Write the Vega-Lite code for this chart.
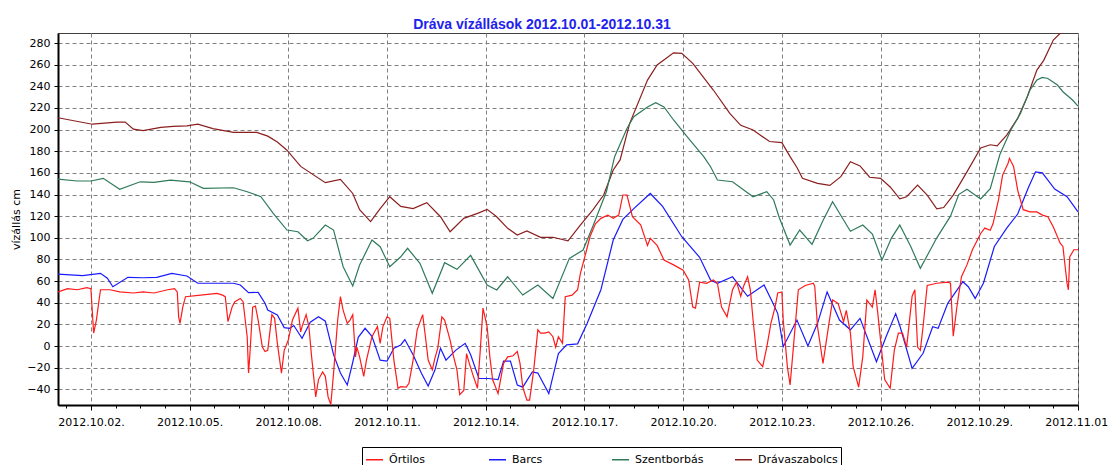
{
"$schema": "https://vega.github.io/schema/vega-lite/v6.json",
"width": 1020, "height": 372,
"autosize": "none",
"padding": {"left": 58, "top": 33, "right": 30, "bottom": 60},
"background": "white",
"config": {"view": {"stroke": "#404040", "strokeWidth": 1}, "font": "DejaVu Sans"},
"title": {"text": "Dráva vízállások 2012.10.01-2012.10.31", "font": "Liberation Sans", "fontSize": 14, "fontWeight": "bold", "color": "#2222EE", "anchor": "middle", "dx": -26, "offset": 1},
"data": {"values": [
{"s":"Drávaszabolcs","t":"2012-10-01T00:00","v":211},
{"s":"Drávaszabolcs","t":"2012-10-02T01:00","v":205},
{"s":"Drávaszabolcs","t":"2012-10-02T19:00","v":207},
{"s":"Drávaszabolcs","t":"2012-10-03T01:00","v":207},
{"s":"Drávaszabolcs","t":"2012-10-03T07:00","v":200.5},
{"s":"Drávaszabolcs","t":"2012-10-03T14:00","v":199},
{"s":"Drávaszabolcs","t":"2012-10-04T03:00","v":202},
{"s":"Drávaszabolcs","t":"2012-10-04T12:00","v":203},
{"s":"Drávaszabolcs","t":"2012-10-04T22:00","v":203.5},
{"s":"Drávaszabolcs","t":"2012-10-05T06:00","v":205},
{"s":"Drávaszabolcs","t":"2012-10-05T17:00","v":201},
{"s":"Drávaszabolcs","t":"2012-10-06T08:00","v":197.5},
{"s":"Drávaszabolcs","t":"2012-10-07T01:00","v":197.5},
{"s":"Drávaszabolcs","t":"2012-10-07T09:00","v":194},
{"s":"Drávaszabolcs","t":"2012-10-07T16:00","v":188.5},
{"s":"Drávaszabolcs","t":"2012-10-07T23:00","v":181},
{"s":"Drávaszabolcs","t":"2012-10-08T09:00","v":166},
{"s":"Drávaszabolcs","t":"2012-10-09T03:00","v":151},
{"s":"Drávaszabolcs","t":"2012-10-09T14:00","v":154},
{"s":"Drávaszabolcs","t":"2012-10-09T23:00","v":141},
{"s":"Drávaszabolcs","t":"2012-10-10T04:00","v":126},
{"s":"Drávaszabolcs","t":"2012-10-10T12:00","v":115},
{"s":"Drávaszabolcs","t":"2012-10-10T19:00","v":127},
{"s":"Drávaszabolcs","t":"2012-10-11T02:00","v":138},
{"s":"Drávaszabolcs","t":"2012-10-11T10:00","v":129},
{"s":"Drávaszabolcs","t":"2012-10-11T19:00","v":127},
{"s":"Drávaszabolcs","t":"2012-10-12T05:00","v":132.5},
{"s":"Drávaszabolcs","t":"2012-10-12T15:00","v":119.5},
{"s":"Drávaszabolcs","t":"2012-10-12T22:00","v":105.6},
{"s":"Drávaszabolcs","t":"2012-10-13T08:00","v":118},
{"s":"Drávaszabolcs","t":"2012-10-13T18:00","v":122.6},
{"s":"Drávaszabolcs","t":"2012-10-14T01:00","v":126.3},
{"s":"Drávaszabolcs","t":"2012-10-14T08:00","v":119.5},
{"s":"Drávaszabolcs","t":"2012-10-14T16:00","v":108.8},
{"s":"Drávaszabolcs","t":"2012-10-14T23:00","v":102.6},
{"s":"Drávaszabolcs","t":"2012-10-15T06:00","v":106.3},
{"s":"Drávaszabolcs","t":"2012-10-15T16:00","v":100.5},
{"s":"Drávaszabolcs","t":"2012-10-16T01:00","v":100.5},
{"s":"Drávaszabolcs","t":"2012-10-16T12:00","v":97.3},
{"s":"Drávaszabolcs","t":"2012-10-16T21:00","v":111.8},
{"s":"Drávaszabolcs","t":"2012-10-17T06:00","v":125.7},
{"s":"Drávaszabolcs","t":"2012-10-17T14:00","v":139.6},
{"s":"Drávaszabolcs","t":"2012-10-17T21:00","v":162.7},
{"s":"Drávaszabolcs","t":"2012-10-18T02:00","v":172},
{"s":"Drávaszabolcs","t":"2012-10-18T09:00","v":205.8},
{"s":"Drávaszabolcs","t":"2012-10-18T22:00","v":245.8},
{"s":"Drávaszabolcs","t":"2012-10-19T05:00","v":259.7},
{"s":"Drávaszabolcs","t":"2012-10-19T17:00","v":271},
{"s":"Drávaszabolcs","t":"2012-10-19T23:00","v":270.5},
{"s":"Drávaszabolcs","t":"2012-10-20T07:00","v":261.3},
{"s":"Drávaszabolcs","t":"2012-10-20T22:00","v":236.6},
{"s":"Drávaszabolcs","t":"2012-10-21T10:00","v":215},
{"s":"Drávaszabolcs","t":"2012-10-21T18:00","v":204},
{"s":"Drávaszabolcs","t":"2012-10-22T03:00","v":199.6},
{"s":"Drávaszabolcs","t":"2012-10-22T15:00","v":189},
{"s":"Drávaszabolcs","t":"2012-10-23T00:00","v":188},
{"s":"Drávaszabolcs","t":"2012-10-23T06:00","v":175},
{"s":"Drávaszabolcs","t":"2012-10-23T11:00","v":165},
{"s":"Drávaszabolcs","t":"2012-10-23T15:00","v":155},
{"s":"Drávaszabolcs","t":"2012-10-24T02:00","v":150.4},
{"s":"Drávaszabolcs","t":"2012-10-24T11:00","v":148.5},
{"s":"Drávaszabolcs","t":"2012-10-24T19:00","v":156.5},
{"s":"Drávaszabolcs","t":"2012-10-25T02:00","v":170.4},
{"s":"Drávaszabolcs","t":"2012-10-25T09:00","v":166.5},
{"s":"Drávaszabolcs","t":"2012-10-25T16:00","v":156},
{"s":"Drávaszabolcs","t":"2012-10-26T00:00","v":155},
{"s":"Drávaszabolcs","t":"2012-10-26T07:00","v":147},
{"s":"Drávaszabolcs","t":"2012-10-26T14:00","v":136},
{"s":"Drávaszabolcs","t":"2012-10-26T19:00","v":138},
{"s":"Drávaszabolcs","t":"2012-10-27T03:00","v":148.8},
{"s":"Drávaszabolcs","t":"2012-10-27T10:00","v":139.5},
{"s":"Drávaszabolcs","t":"2012-10-27T17:00","v":126.7},
{"s":"Drávaszabolcs","t":"2012-10-27T22:00","v":128},
{"s":"Drávaszabolcs","t":"2012-10-28T05:00","v":139.5},
{"s":"Drávaszabolcs","t":"2012-10-28T15:00","v":161},
{"s":"Drávaszabolcs","t":"2012-10-29T01:00","v":183},
{"s":"Drávaszabolcs","t":"2012-10-29T08:00","v":186},
{"s":"Drávaszabolcs","t":"2012-10-29T13:00","v":185},
{"s":"Drávaszabolcs","t":"2012-10-29T20:00","v":195},
{"s":"Drávaszabolcs","t":"2012-10-30T04:00","v":210.4},
{"s":"Drávaszabolcs","t":"2012-10-30T11:00","v":230.4},
{"s":"Drávaszabolcs","t":"2012-10-30T18:00","v":255},
{"s":"Drávaszabolcs","t":"2012-10-30T23:00","v":264},
{"s":"Drávaszabolcs","t":"2012-10-31T06:00","v":282.8},
{"s":"Drávaszabolcs","t":"2012-10-31T11:00","v":289},
{"s":"Drávaszabolcs","t":"2012-10-31T17:00","v":292},
{"s":"Drávaszabolcs","t":"2012-11-01T00:00","v":294},
{"s":"Szentborbás","t":"2012-10-01T00:00","v":154.3},
{"s":"Szentborbás","t":"2012-10-01T14:00","v":152.5},
{"s":"Szentborbás","t":"2012-10-02T00:00","v":152.5},
{"s":"Szentborbás","t":"2012-10-02T09:00","v":155},
{"s":"Szentborbás","t":"2012-10-02T21:00","v":144.8},
{"s":"Szentborbás","t":"2012-10-03T12:00","v":151.8},
{"s":"Szentborbás","t":"2012-10-03T22:00","v":151.3},
{"s":"Szentborbás","t":"2012-10-04T10:00","v":153.4},
{"s":"Szentborbás","t":"2012-10-05T00:00","v":151.8},
{"s":"Szentborbás","t":"2012-10-05T10:00","v":145.7},
{"s":"Szentborbás","t":"2012-10-06T08:00","v":146.3},
{"s":"Szentborbás","t":"2012-10-06T18:00","v":142.6},
{"s":"Szentborbás","t":"2012-10-07T04:00","v":138},
{"s":"Szentborbás","t":"2012-10-07T13:00","v":122.6},
{"s":"Szentborbás","t":"2012-10-07T23:00","v":107.2},
{"s":"Szentborbás","t":"2012-10-08T07:00","v":105.6},
{"s":"Szentborbás","t":"2012-10-08T14:00","v":97.3},
{"s":"Szentborbás","t":"2012-10-08T18:00","v":99.5},
{"s":"Szentborbás","t":"2012-10-09T03:00","v":111.8},
{"s":"Szentborbás","t":"2012-10-09T09:00","v":107.2},
{"s":"Szentborbás","t":"2012-10-09T16:00","v":73.3},
{"s":"Szentborbás","t":"2012-10-09T23:00","v":55.5},
{"s":"Szentborbás","t":"2012-10-10T04:00","v":74.9},
{"s":"Szentborbás","t":"2012-10-10T13:00","v":98},
{"s":"Szentborbás","t":"2012-10-10T19:00","v":91.8},
{"s":"Szentborbás","t":"2012-10-11T02:00","v":73.3},
{"s":"Szentborbás","t":"2012-10-11T10:00","v":82.5},
{"s":"Szentborbás","t":"2012-10-11T15:00","v":90.3},
{"s":"Szentborbás","t":"2012-10-12T00:00","v":76.4},
{"s":"Szentborbás","t":"2012-10-12T09:00","v":48.7},
{"s":"Szentborbás","t":"2012-10-12T18:00","v":77},
{"s":"Szentborbás","t":"2012-10-13T03:00","v":70.9},
{"s":"Szentborbás","t":"2012-10-13T13:00","v":83.8},
{"s":"Szentborbás","t":"2012-10-14T01:00","v":56.4},
{"s":"Szentborbás","t":"2012-10-14T08:00","v":51.8},
{"s":"Szentborbás","t":"2012-10-14T16:00","v":64},
{"s":"Szentborbás","t":"2012-10-15T03:00","v":47.1},
{"s":"Szentborbás","t":"2012-10-15T14:00","v":56.4},
{"s":"Szentborbás","t":"2012-10-16T01:00","v":44},
{"s":"Szentborbás","t":"2012-10-16T13:00","v":81},
{"s":"Szentborbás","t":"2012-10-16T23:00","v":88.7},
{"s":"Szentborbás","t":"2012-10-17T06:00","v":110.3},
{"s":"Szentborbás","t":"2012-10-17T16:00","v":142.6},
{"s":"Szentborbás","t":"2012-10-17T22:00","v":175},
{"s":"Szentborbás","t":"2012-10-18T07:00","v":201},
{"s":"Szentborbás","t":"2012-10-18T12:00","v":212},
{"s":"Szentborbás","t":"2012-10-18T22:00","v":221},
{"s":"Szentborbás","t":"2012-10-19T04:00","v":224.9},
{"s":"Szentborbás","t":"2012-10-19T10:00","v":221},
{"s":"Szentborbás","t":"2012-10-19T17:00","v":208.9},
{"s":"Szentborbás","t":"2012-10-20T03:00","v":193.4},
{"s":"Szentborbás","t":"2012-10-20T15:00","v":175},
{"s":"Szentborbás","t":"2012-10-20T20:00","v":165.7},
{"s":"Szentborbás","t":"2012-10-21T01:00","v":153.4},
{"s":"Szentborbás","t":"2012-10-21T12:00","v":151.8},
{"s":"Szentborbás","t":"2012-10-22T03:00","v":138},
{"s":"Szentborbás","t":"2012-10-22T13:00","v":142.6},
{"s":"Szentborbás","t":"2012-10-22T18:00","v":135},
{"s":"Szentborbás","t":"2012-10-22T22:00","v":119},
{"s":"Szentborbás","t":"2012-10-23T06:00","v":93.3},
{"s":"Szentborbás","t":"2012-10-23T13:00","v":107.2},
{"s":"Szentborbás","t":"2012-10-23T22:00","v":94},
{"s":"Szentborbás","t":"2012-10-24T06:00","v":116},
{"s":"Szentborbás","t":"2012-10-24T13:00","v":133.4},
{"s":"Szentborbás","t":"2012-10-24T21:00","v":116.5},
{"s":"Szentborbás","t":"2012-10-25T02:00","v":106},
{"s":"Szentborbás","t":"2012-10-25T11:00","v":111.8},
{"s":"Szentborbás","t":"2012-10-25T18:00","v":103.5},
{"s":"Szentborbás","t":"2012-10-26T01:00","v":79.5},
{"s":"Szentborbás","t":"2012-10-26T08:00","v":100},
{"s":"Szentborbás","t":"2012-10-26T14:00","v":111.8},
{"s":"Szentborbás","t":"2012-10-26T22:00","v":92},
{"s":"Szentborbás","t":"2012-10-27T05:00","v":71.8},
{"s":"Szentborbás","t":"2012-10-27T17:00","v":100},
{"s":"Szentborbás","t":"2012-10-28T03:00","v":120},
{"s":"Szentborbás","t":"2012-10-28T09:00","v":140},
{"s":"Szentborbás","t":"2012-10-28T15:00","v":145},
{"s":"Szentborbás","t":"2012-10-29T01:00","v":136},
{"s":"Szentborbás","t":"2012-10-29T08:00","v":145.5},
{"s":"Szentborbás","t":"2012-10-29T15:00","v":177},
{"s":"Szentborbás","t":"2012-10-29T23:00","v":199.6},
{"s":"Szentborbás","t":"2012-10-30T06:00","v":215},
{"s":"Szentborbás","t":"2012-10-30T13:00","v":236.6},
{"s":"Szentborbás","t":"2012-10-30T18:00","v":245.8},
{"s":"Szentborbás","t":"2012-10-30T22:00","v":248.3},
{"s":"Szentborbás","t":"2012-10-31T02:00","v":247.3},
{"s":"Szentborbás","t":"2012-10-31T09:00","v":241.2},
{"s":"Szentborbás","t":"2012-10-31T13:00","v":235},
{"s":"Szentborbás","t":"2012-10-31T20:00","v":227.4},
{"s":"Szentborbás","t":"2012-11-01T00:00","v":221.8},
{"s":"Barcs","t":"2012-10-01T00:00","v":66.5},
{"s":"Barcs","t":"2012-10-01T18:00","v":65},
{"s":"Barcs","t":"2012-10-02T07:00","v":67.2},
{"s":"Barcs","t":"2012-10-02T12:00","v":62.6},
{"s":"Barcs","t":"2012-10-02T16:00","v":54.8},
{"s":"Barcs","t":"2012-10-03T03:00","v":63.5},
{"s":"Barcs","t":"2012-10-03T14:00","v":63.1},
{"s":"Barcs","t":"2012-10-04T00:00","v":63.5},
{"s":"Barcs","t":"2012-10-04T11:00","v":67.2},
{"s":"Barcs","t":"2012-10-04T22:00","v":64.7},
{"s":"Barcs","t":"2012-10-05T06:00","v":58},
{"s":"Barcs","t":"2012-10-06T08:00","v":58},
{"s":"Barcs","t":"2012-10-06T13:00","v":56.4},
{"s":"Barcs","t":"2012-10-06T19:00","v":49.3},
{"s":"Barcs","t":"2012-10-07T02:00","v":49.6},
{"s":"Barcs","t":"2012-10-07T07:00","v":39.5},
{"s":"Barcs","t":"2012-10-07T09:00","v":33.3},
{"s":"Barcs","t":"2012-10-07T16:00","v":28.7},
{"s":"Barcs","t":"2012-10-07T21:00","v":17},
{"s":"Barcs","t":"2012-10-08T01:00","v":16.4},
{"s":"Barcs","t":"2012-10-08T04:00","v":19},
{"s":"Barcs","t":"2012-10-08T10:00","v":7.1},
{"s":"Barcs","t":"2012-10-08T16:00","v":22},
{"s":"Barcs","t":"2012-10-08T22:00","v":27},
{"s":"Barcs","t":"2012-10-09T03:00","v":23},
{"s":"Barcs","t":"2012-10-09T09:00","v":-8},
{"s":"Barcs","t":"2012-10-09T14:00","v":-25},
{"s":"Barcs","t":"2012-10-09T19:00","v":-36},
{"s":"Barcs","t":"2012-10-09T23:00","v":-15},
{"s":"Barcs","t":"2012-10-10T03:00","v":8},
{"s":"Barcs","t":"2012-10-10T08:00","v":16.4},
{"s":"Barcs","t":"2012-10-10T13:00","v":9},
{"s":"Barcs","t":"2012-10-10T19:00","v":-13},
{"s":"Barcs","t":"2012-10-11T00:00","v":-14},
{"s":"Barcs","t":"2012-10-11T05:00","v":-2},
{"s":"Barcs","t":"2012-10-11T10:00","v":1},
{"s":"Barcs","t":"2012-10-11T13:00","v":6},
{"s":"Barcs","t":"2012-10-11T19:00","v":-8},
{"s":"Barcs","t":"2012-10-12T01:00","v":-25},
{"s":"Barcs","t":"2012-10-12T06:00","v":-37},
{"s":"Barcs","t":"2012-10-12T11:00","v":-22},
{"s":"Barcs","t":"2012-10-12T15:00","v":-2},
{"s":"Barcs","t":"2012-10-12T19:00","v":-13},
{"s":"Barcs","t":"2012-10-13T02:00","v":-4},
{"s":"Barcs","t":"2012-10-13T09:00","v":2.5},
{"s":"Barcs","t":"2012-10-13T13:00","v":-8},
{"s":"Barcs","t":"2012-10-13T19:00","v":-30},
{"s":"Barcs","t":"2012-10-14T02:00","v":-30},
{"s":"Barcs","t":"2012-10-14T09:00","v":-31},
{"s":"Barcs","t":"2012-10-14T13:00","v":-14},
{"s":"Barcs","t":"2012-10-14T18:00","v":-14},
{"s":"Barcs","t":"2012-10-14T23:00","v":-36},
{"s":"Barcs","t":"2012-10-15T03:00","v":-38},
{"s":"Barcs","t":"2012-10-15T10:00","v":-24},
{"s":"Barcs","t":"2012-10-15T14:00","v":-25},
{"s":"Barcs","t":"2012-10-15T22:00","v":-44},
{"s":"Barcs","t":"2012-10-16T05:00","v":-7},
{"s":"Barcs","t":"2012-10-16T11:00","v":1},
{"s":"Barcs","t":"2012-10-16T19:00","v":2},
{"s":"Barcs","t":"2012-10-17T02:00","v":21},
{"s":"Barcs","t":"2012-10-17T12:00","v":52},
{"s":"Barcs","t":"2012-10-17T21:00","v":98},
{"s":"Barcs","t":"2012-10-18T04:00","v":117},
{"s":"Barcs","t":"2012-10-18T12:00","v":127},
{"s":"Barcs","t":"2012-10-19T00:00","v":141},
{"s":"Barcs","t":"2012-10-19T09:00","v":129},
{"s":"Barcs","t":"2012-10-19T23:00","v":101},
{"s":"Barcs","t":"2012-10-20T12:00","v":82},
{"s":"Barcs","t":"2012-10-20T20:00","v":61},
{"s":"Barcs","t":"2012-10-21T01:00","v":58},
{"s":"Barcs","t":"2012-10-21T12:00","v":64},
{"s":"Barcs","t":"2012-10-21T23:00","v":46},
{"s":"Barcs","t":"2012-10-22T11:00","v":56.4},
{"s":"Barcs","t":"2012-10-22T17:00","v":41},
{"s":"Barcs","t":"2012-10-22T21:00","v":30},
{"s":"Barcs","t":"2012-10-23T01:00","v":-0.6},
{"s":"Barcs","t":"2012-10-23T11:00","v":24},
{"s":"Barcs","t":"2012-10-23T19:00","v":0},
{"s":"Barcs","t":"2012-10-24T02:00","v":21},
{"s":"Barcs","t":"2012-10-24T09:00","v":50},
{"s":"Barcs","t":"2012-10-24T18:00","v":24},
{"s":"Barcs","t":"2012-10-25T02:00","v":15},
{"s":"Barcs","t":"2012-10-25T09:00","v":25.6},
{"s":"Barcs","t":"2012-10-25T21:00","v":-14.5},
{"s":"Barcs","t":"2012-10-26T04:00","v":8.6},
{"s":"Barcs","t":"2012-10-26T11:00","v":30},
{"s":"Barcs","t":"2012-10-26T14:00","v":19},
{"s":"Barcs","t":"2012-10-26T23:00","v":-20.6},
{"s":"Barcs","t":"2012-10-27T07:00","v":-6.7},
{"s":"Barcs","t":"2012-10-27T14:00","v":17.8},
{"s":"Barcs","t":"2012-10-27T18:00","v":16.4},
{"s":"Barcs","t":"2012-10-28T01:00","v":39.5},
{"s":"Barcs","t":"2012-10-28T12:00","v":59.4},
{"s":"Barcs","t":"2012-10-28T16:00","v":54.8},
{"s":"Barcs","t":"2012-10-28T21:00","v":44},
{"s":"Barcs","t":"2012-10-29T03:00","v":58},
{"s":"Barcs","t":"2012-10-29T11:00","v":92},
{"s":"Barcs","t":"2012-10-29T20:00","v":109},
{"s":"Barcs","t":"2012-10-30T04:00","v":122},
{"s":"Barcs","t":"2012-10-30T12:00","v":147},
{"s":"Barcs","t":"2012-10-30T17:00","v":161},
{"s":"Barcs","t":"2012-10-30T22:00","v":160},
{"s":"Barcs","t":"2012-10-31T07:00","v":145},
{"s":"Barcs","t":"2012-10-31T16:00","v":138},
{"s":"Barcs","t":"2012-11-01T00:00","v":124},
{"s":"Őrtilos","t":"2012-10-01T00:00","v":50},
{"s":"Őrtilos","t":"2012-10-01T07:00","v":53},
{"s":"Őrtilos","t":"2012-10-01T14:00","v":52},
{"s":"Őrtilos","t":"2012-10-01T21:00","v":54},
{"s":"Őrtilos","t":"2012-10-02T00:00","v":53},
{"s":"Őrtilos","t":"2012-10-02T02:00","v":12},
{"s":"Őrtilos","t":"2012-10-02T04:00","v":24},
{"s":"Őrtilos","t":"2012-10-02T06:00","v":43},
{"s":"Őrtilos","t":"2012-10-02T07:00","v":52},
{"s":"Őrtilos","t":"2012-10-02T14:00","v":52},
{"s":"Őrtilos","t":"2012-10-02T21:00","v":50},
{"s":"Őrtilos","t":"2012-10-03T07:00","v":49},
{"s":"Őrtilos","t":"2012-10-03T14:00","v":50},
{"s":"Őrtilos","t":"2012-10-03T22:00","v":49},
{"s":"Őrtilos","t":"2012-10-04T08:00","v":52},
{"s":"Őrtilos","t":"2012-10-04T13:00","v":53},
{"s":"Őrtilos","t":"2012-10-04T15:00","v":50},
{"s":"Őrtilos","t":"2012-10-04T16:00","v":27},
{"s":"Őrtilos","t":"2012-10-04T17:00","v":21},
{"s":"Őrtilos","t":"2012-10-04T19:00","v":36},
{"s":"Őrtilos","t":"2012-10-04T21:00","v":45.6},
{"s":"Őrtilos","t":"2012-10-05T08:00","v":47},
{"s":"Őrtilos","t":"2012-10-05T20:00","v":48.7},
{"s":"Őrtilos","t":"2012-10-06T00:00","v":47},
{"s":"Őrtilos","t":"2012-10-06T02:00","v":45.6},
{"s":"Őrtilos","t":"2012-10-06T04:00","v":22.5},
{"s":"Őrtilos","t":"2012-10-06T07:00","v":36},
{"s":"Őrtilos","t":"2012-10-06T09:00","v":41},
{"s":"Őrtilos","t":"2012-10-06T13:00","v":44},
{"s":"Őrtilos","t":"2012-10-06T15:00","v":41},
{"s":"Őrtilos","t":"2012-10-06T18:00","v":8.6},
{"s":"Őrtilos","t":"2012-10-06T19:00","v":-25},
{"s":"Őrtilos","t":"2012-10-06T20:00","v":-7},
{"s":"Őrtilos","t":"2012-10-06T22:00","v":36},
{"s":"Őrtilos","t":"2012-10-07T00:00","v":37},
{"s":"Őrtilos","t":"2012-10-07T02:00","v":24},
{"s":"Őrtilos","t":"2012-10-07T05:00","v":-0.6},
{"s":"Őrtilos","t":"2012-10-07T07:00","v":-5},
{"s":"Őrtilos","t":"2012-10-07T09:00","v":-4},
{"s":"Őrtilos","t":"2012-10-07T12:00","v":29},
{"s":"Őrtilos","t":"2012-10-07T14:00","v":25.6},
{"s":"Őrtilos","t":"2012-10-07T16:00","v":2.5},
{"s":"Őrtilos","t":"2012-10-07T19:00","v":-25},
{"s":"Őrtilos","t":"2012-10-07T21:00","v":-4},
{"s":"Őrtilos","t":"2012-10-08T00:00","v":5.5},
{"s":"Őrtilos","t":"2012-10-08T03:00","v":24},
{"s":"Őrtilos","t":"2012-10-08T07:00","v":35},
{"s":"Őrtilos","t":"2012-10-08T09:00","v":13},
{"s":"Őrtilos","t":"2012-10-08T10:00","v":18},
{"s":"Őrtilos","t":"2012-10-08T13:00","v":29},
{"s":"Őrtilos","t":"2012-10-08T15:00","v":18},
{"s":"Őrtilos","t":"2012-10-08T17:00","v":-10},
{"s":"Őrtilos","t":"2012-10-08T20:00","v":-47},
{"s":"Őrtilos","t":"2012-10-08T22:00","v":-31},
{"s":"Őrtilos","t":"2012-10-09T01:00","v":-24},
{"s":"Őrtilos","t":"2012-10-09T03:00","v":-28},
{"s":"Őrtilos","t":"2012-10-09T05:00","v":-47},
{"s":"Őrtilos","t":"2012-10-09T07:00","v":-54},
{"s":"Őrtilos","t":"2012-10-09T09:00","v":-25},
{"s":"Őrtilos","t":"2012-10-09T12:00","v":24},
{"s":"Őrtilos","t":"2012-10-09T14:00","v":45.6},
{"s":"Őrtilos","t":"2012-10-09T16:00","v":33},
{"s":"Őrtilos","t":"2012-10-09T19:00","v":21},
{"s":"Őrtilos","t":"2012-10-09T21:00","v":24},
{"s":"Őrtilos","t":"2012-10-09T23:00","v":29},
{"s":"Őrtilos","t":"2012-10-10T01:00","v":-10},
{"s":"Őrtilos","t":"2012-10-10T02:00","v":-1},
{"s":"Őrtilos","t":"2012-10-10T04:00","v":-10},
{"s":"Őrtilos","t":"2012-10-10T07:00","v":-28},
{"s":"Őrtilos","t":"2012-10-10T09:00","v":-13},
{"s":"Őrtilos","t":"2012-10-10T13:00","v":8.6},
{"s":"Őrtilos","t":"2012-10-10T17:00","v":18},
{"s":"Őrtilos","t":"2012-10-10T19:00","v":2.5},
{"s":"Őrtilos","t":"2012-10-10T21:00","v":18},
{"s":"Őrtilos","t":"2012-10-11T00:00","v":27},
{"s":"Őrtilos","t":"2012-10-11T02:00","v":25.6},
{"s":"Őrtilos","t":"2012-10-11T05:00","v":-13},
{"s":"Őrtilos","t":"2012-10-11T08:00","v":-39},
{"s":"Őrtilos","t":"2012-10-11T10:00","v":-37.6},
{"s":"Őrtilos","t":"2012-10-11T14:00","v":-38},
{"s":"Őrtilos","t":"2012-10-11T16:00","v":-34.5},
{"s":"Őrtilos","t":"2012-10-11T19:00","v":-13},
{"s":"Őrtilos","t":"2012-10-11T22:00","v":15},
{"s":"Őrtilos","t":"2012-10-12T02:00","v":29},
{"s":"Őrtilos","t":"2012-10-12T04:00","v":8.6},
{"s":"Őrtilos","t":"2012-10-12T06:00","v":-13},
{"s":"Őrtilos","t":"2012-10-12T09:00","v":-22},
{"s":"Őrtilos","t":"2012-10-12T11:00","v":-11},
{"s":"Őrtilos","t":"2012-10-12T13:00","v":-2},
{"s":"Őrtilos","t":"2012-10-12T16:00","v":27},
{"s":"Őrtilos","t":"2012-10-12T18:00","v":24},
{"s":"Őrtilos","t":"2012-10-12T22:00","v":5.5},
{"s":"Őrtilos","t":"2012-10-13T00:00","v":-7},
{"s":"Őrtilos","t":"2012-10-13T03:00","v":-22},
{"s":"Őrtilos","t":"2012-10-13T05:00","v":-45},
{"s":"Őrtilos","t":"2012-10-13T08:00","v":-41},
{"s":"Őrtilos","t":"2012-10-13T10:00","v":-7},
{"s":"Őrtilos","t":"2012-10-13T12:00","v":-16},
{"s":"Őrtilos","t":"2012-10-13T15:00","v":-28},
{"s":"Őrtilos","t":"2012-10-13T18:00","v":-39},
{"s":"Őrtilos","t":"2012-10-13T20:00","v":-4},
{"s":"Őrtilos","t":"2012-10-13T22:00","v":35},
{"s":"Őrtilos","t":"2012-10-14T01:00","v":18},
{"s":"Őrtilos","t":"2012-10-14T03:00","v":-10},
{"s":"Őrtilos","t":"2012-10-14T05:00","v":-31},
{"s":"Őrtilos","t":"2012-10-14T09:00","v":-44},
{"s":"Őrtilos","t":"2012-10-14T13:00","v":-16},
{"s":"Őrtilos","t":"2012-10-14T16:00","v":-10},
{"s":"Őrtilos","t":"2012-10-14T20:00","v":-9},
{"s":"Őrtilos","t":"2012-10-14T23:00","v":-5},
{"s":"Őrtilos","t":"2012-10-15T01:00","v":-16},
{"s":"Őrtilos","t":"2012-10-15T03:00","v":-38},
{"s":"Őrtilos","t":"2012-10-15T06:00","v":-50},
{"s":"Őrtilos","t":"2012-10-15T08:00","v":-50},
{"s":"Őrtilos","t":"2012-10-15T11:00","v":-22},
{"s":"Őrtilos","t":"2012-10-15T14:00","v":15},
{"s":"Őrtilos","t":"2012-10-15T16:00","v":12},
{"s":"Őrtilos","t":"2012-10-15T19:00","v":12},
{"s":"Őrtilos","t":"2012-10-15T22:00","v":13},
{"s":"Őrtilos","t":"2012-10-16T01:00","v":8.6},
{"s":"Őrtilos","t":"2012-10-16T03:00","v":-1},
{"s":"Őrtilos","t":"2012-10-16T05:00","v":8.6},
{"s":"Őrtilos","t":"2012-10-16T08:00","v":2.5},
{"s":"Őrtilos","t":"2012-10-16T10:00","v":45.6},
{"s":"Őrtilos","t":"2012-10-16T15:00","v":47},
{"s":"Őrtilos","t":"2012-10-16T19:00","v":52},
{"s":"Őrtilos","t":"2012-10-16T21:00","v":67},
{"s":"Őrtilos","t":"2012-10-17T01:00","v":86},
{"s":"Őrtilos","t":"2012-10-17T04:00","v":101},
{"s":"Őrtilos","t":"2012-10-17T08:00","v":113},
{"s":"Őrtilos","t":"2012-10-17T12:00","v":118},
{"s":"Őrtilos","t":"2012-10-17T17:00","v":121},
{"s":"Őrtilos","t":"2012-10-17T21:00","v":118},
{"s":"Őrtilos","t":"2012-10-18T01:00","v":121},
{"s":"Őrtilos","t":"2012-10-18T04:00","v":139.6},
{"s":"Őrtilos","t":"2012-10-18T07:00","v":139.6},
{"s":"Őrtilos","t":"2012-10-18T11:00","v":119.5},
{"s":"Őrtilos","t":"2012-10-18T17:00","v":112},
{"s":"Őrtilos","t":"2012-10-18T22:00","v":93},
{"s":"Őrtilos","t":"2012-10-19T00:00","v":99.5},
{"s":"Őrtilos","t":"2012-10-19T05:00","v":93},
{"s":"Őrtilos","t":"2012-10-19T10:00","v":79.5},
{"s":"Őrtilos","t":"2012-10-19T17:00","v":75},
{"s":"Őrtilos","t":"2012-10-20T00:00","v":70},
{"s":"Őrtilos","t":"2012-10-20T04:00","v":61},
{"s":"Őrtilos","t":"2012-10-20T07:00","v":36},
{"s":"Őrtilos","t":"2012-10-20T09:00","v":35},
{"s":"Őrtilos","t":"2012-10-20T12:00","v":59},
{"s":"Őrtilos","t":"2012-10-20T17:00","v":58},
{"s":"Őrtilos","t":"2012-10-20T22:00","v":61},
{"s":"Őrtilos","t":"2012-10-21T01:00","v":58},
{"s":"Őrtilos","t":"2012-10-21T04:00","v":36},
{"s":"Őrtilos","t":"2012-10-21T08:00","v":27},
{"s":"Őrtilos","t":"2012-10-21T12:00","v":52},
{"s":"Őrtilos","t":"2012-10-21T15:00","v":59},
{"s":"Őrtilos","t":"2012-10-21T18:00","v":46},
{"s":"Őrtilos","t":"2012-10-21T20:00","v":55},
{"s":"Őrtilos","t":"2012-10-21T23:00","v":64},
{"s":"Őrtilos","t":"2012-10-22T01:00","v":52},
{"s":"Őrtilos","t":"2012-10-22T03:00","v":24},
{"s":"Őrtilos","t":"2012-10-22T06:00","v":-13},
{"s":"Őrtilos","t":"2012-10-22T10:00","v":-19},
{"s":"Őrtilos","t":"2012-10-22T13:00","v":-1},
{"s":"Őrtilos","t":"2012-10-22T16:00","v":21},
{"s":"Őrtilos","t":"2012-10-22T19:00","v":36},
{"s":"Őrtilos","t":"2012-10-22T21:00","v":49},
{"s":"Őrtilos","t":"2012-10-23T00:00","v":50},
{"s":"Őrtilos","t":"2012-10-23T01:00","v":24},
{"s":"Őrtilos","t":"2012-10-23T04:00","v":-19},
{"s":"Őrtilos","t":"2012-10-23T06:00","v":-36},
{"s":"Őrtilos","t":"2012-10-23T08:00","v":-7},
{"s":"Őrtilos","t":"2012-10-23T12:00","v":52},
{"s":"Őrtilos","t":"2012-10-23T17:00","v":56},
{"s":"Őrtilos","t":"2012-10-23T23:00","v":58},
{"s":"Őrtilos","t":"2012-10-24T00:00","v":55},
{"s":"Őrtilos","t":"2012-10-24T02:00","v":18},
{"s":"Őrtilos","t":"2012-10-24T06:00","v":-16},
{"s":"Őrtilos","t":"2012-10-24T10:00","v":18},
{"s":"Őrtilos","t":"2012-10-24T13:00","v":42.5},
{"s":"Őrtilos","t":"2012-10-24T17:00","v":39.5},
{"s":"Őrtilos","t":"2012-10-24T21:00","v":22.5},
{"s":"Őrtilos","t":"2012-10-24T23:00","v":33},
{"s":"Őrtilos","t":"2012-10-25T02:00","v":12},
{"s":"Őrtilos","t":"2012-10-25T04:00","v":-19},
{"s":"Őrtilos","t":"2012-10-25T08:00","v":-38},
{"s":"Őrtilos","t":"2012-10-25T11:00","v":-10},
{"s":"Őrtilos","t":"2012-10-25T14:00","v":42.5},
{"s":"Őrtilos","t":"2012-10-25T18:00","v":36},
{"s":"Őrtilos","t":"2012-10-25T20:00","v":52},
{"s":"Őrtilos","t":"2012-10-25T22:00","v":30},
{"s":"Őrtilos","t":"2012-10-26T01:00","v":-7},
{"s":"Őrtilos","t":"2012-10-26T03:00","v":-31},
{"s":"Őrtilos","t":"2012-10-26T07:00","v":-39},
{"s":"Őrtilos","t":"2012-10-26T10:00","v":-4},
{"s":"Őrtilos","t":"2012-10-26T13:00","v":12},
{"s":"Őrtilos","t":"2012-10-26T16:00","v":12},
{"s":"Őrtilos","t":"2012-10-26T19:00","v":-1},
{"s":"Őrtilos","t":"2012-10-26T23:00","v":46},
{"s":"Őrtilos","t":"2012-10-27T01:00","v":52},
{"s":"Őrtilos","t":"2012-10-27T03:00","v":-1},
{"s":"Őrtilos","t":"2012-10-27T05:00","v":-4},
{"s":"Őrtilos","t":"2012-10-27T07:00","v":18},
{"s":"Őrtilos","t":"2012-10-27T10:00","v":56},
{"s":"Őrtilos","t":"2012-10-27T17:00","v":58},
{"s":"Őrtilos","t":"2012-10-28T01:00","v":59},
{"s":"Őrtilos","t":"2012-10-28T03:00","v":58},
{"s":"Őrtilos","t":"2012-10-28T05:00","v":9},
{"s":"Őrtilos","t":"2012-10-28T08:00","v":39.5},
{"s":"Őrtilos","t":"2012-10-28T11:00","v":64},
{"s":"Őrtilos","t":"2012-10-28T15:00","v":75},
{"s":"Őrtilos","t":"2012-10-28T19:00","v":89},
{"s":"Őrtilos","t":"2012-10-29T01:00","v":104},
{"s":"Őrtilos","t":"2012-10-29T04:00","v":109},
{"s":"Őrtilos","t":"2012-10-29T08:00","v":107},
{"s":"Őrtilos","t":"2012-10-29T10:00","v":113},
{"s":"Őrtilos","t":"2012-10-29T14:00","v":135},
{"s":"Őrtilos","t":"2012-10-29T17:00","v":158},
{"s":"Őrtilos","t":"2012-10-29T21:00","v":169},
{"s":"Őrtilos","t":"2012-10-29T22:00","v":173.5},
{"s":"Őrtilos","t":"2012-10-30T01:00","v":166},
{"s":"Őrtilos","t":"2012-10-30T04:00","v":144},
{"s":"Őrtilos","t":"2012-10-30T08:00","v":126},
{"s":"Őrtilos","t":"2012-10-30T13:00","v":124},
{"s":"Őrtilos","t":"2012-10-30T18:00","v":124},
{"s":"Őrtilos","t":"2012-10-30T22:00","v":121},
{"s":"Őrtilos","t":"2012-10-31T02:00","v":119.5},
{"s":"Őrtilos","t":"2012-10-31T06:00","v":110},
{"s":"Őrtilos","t":"2012-10-31T11:00","v":95},
{"s":"Őrtilos","t":"2012-10-31T13:00","v":92},
{"s":"Őrtilos","t":"2012-10-31T16:00","v":58},
{"s":"Őrtilos","t":"2012-10-31T17:00","v":52},
{"s":"Őrtilos","t":"2012-10-31T18:00","v":82.5},
{"s":"Őrtilos","t":"2012-10-31T21:00","v":89},
{"s":"Őrtilos","t":"2012-11-01T00:00","v":89}
]},
"resolve": {"axis": {"x": "independent"}},
"layer": [
{
"mark": {"type": "line", "strokeWidth": 1.2, "clip": true},
"encoding": {
"x": {"field": "t", "type": "temporal",
 "scale": {"domain": [{"year": 2012, "month": 10, "date": 1}, {"year": 2012, "month": 11, "date": 1}]},
 "axis": {"title": null, "format": "%Y.%m.%d.", "labelFlush": false, "labelOverlap": false,
  "values": [{"year": 2012, "month": 10, "date": 2}, {"year": 2012, "month": 10, "date": 5}, {"year": 2012, "month": 10, "date": 8}, {"year": 2012, "month": 10, "date": 11}, {"year": 2012, "month": 10, "date": 14}, {"year": 2012, "month": 10, "date": 17}, {"year": 2012, "month": 10, "date": 20}, {"year": 2012, "month": 10, "date": 23}, {"year": 2012, "month": 10, "date": 26}, {"year": 2012, "month": 10, "date": 29}, {"year": 2012, "month": 11, "date": 1}],
  "labelFont": "DejaVu Sans", "labelFontSize": 11, "labelColor": "#000000", "labelPadding": 6,
  "tickSize": 5, "tickColor": "#000000", "domainColor": "#000000", "domainWidth": 2,
  "grid": true, "gridColor": "#808080", "gridDash": [4, 3], "gridWidth": 1}},
"y": {"field": "v", "type": "quantitative",
 "scale": {"domain": [-54.5, 289.3], "nice": false, "zero": false},
 "axis": {"title": "vízállás cm", "titleFont": "DejaVu Sans", "titleFontSize": 11, "titleFontWeight": "normal", "titleColor": "#000000", "titlePadding": 5,
  "values": [-40, -20, 0, 20, 40, 60, 80, 100, 120, 140, 160, 180, 200, 220, 240, 260, 280], "labelOverlap": false,
  "labelFont": "DejaVu Sans", "labelFontSize": 11, "labelColor": "#000000", "labelPadding": 4,
  "tickSize": 4, "tickColor": "#000000", "domainColor": "#000000", "domainWidth": 2,
  "grid": true, "gridColor": "#808080", "gridDash": [4, 3], "gridWidth": 1}},
"color": {"field": "s", "type": "nominal",
 "scale": {"domain": ["Őrtilos", "Barcs", "Szentborbás", "Drávaszabolcs"], "range": ["#FF1A1A", "#1A1AFF", "#2F7A5A", "#8B1E1E"]},
 "legend": {"title": null, "orient": "none", "legendX": 304, "legendY": 414, "direction": "horizontal", "columns": 4, "gridAlign": "all",
  "symbolType": "stroke", "symbolSize": 289, "symbolStrokeWidth": 1.5, "labelFont": "DejaVu Sans", "labelFontSize": 11, "labelColor": "#000000", "labelOffset": 5, "labelLimit": 200, "columnPadding": 17,
  "strokeColor": "#000000", "fillColor": "#FFFFFF", "padding": 3}}
}
},
{
"mark": {"type": "point", "opacity": 0},
"encoding": {
"x": {"field": "t", "type": "temporal",
 "axis": {"title": null, "orient": "bottom", "labels": false, "grid": false, "domain": false, "tickSize": 3, "tickColor": "#000000",
  "values": [
   {"year": 2012, "month": 10, "date": 1, "hours": 6},
   {"year": 2012, "month": 10, "date": 2, "hours": 18}, {"year": 2012, "month": 10, "date": 3, "hours": 12}, {"year": 2012, "month": 10, "date": 4, "hours": 6},
   {"year": 2012, "month": 10, "date": 5, "hours": 18}, {"year": 2012, "month": 10, "date": 6, "hours": 12}, {"year": 2012, "month": 10, "date": 7, "hours": 6},
   {"year": 2012, "month": 10, "date": 8, "hours": 18}, {"year": 2012, "month": 10, "date": 9, "hours": 12}, {"year": 2012, "month": 10, "date": 10, "hours": 6},
   {"year": 2012, "month": 10, "date": 11, "hours": 18}, {"year": 2012, "month": 10, "date": 12, "hours": 12}, {"year": 2012, "month": 10, "date": 13, "hours": 6},
   {"year": 2012, "month": 10, "date": 14, "hours": 18}, {"year": 2012, "month": 10, "date": 15, "hours": 12}, {"year": 2012, "month": 10, "date": 16, "hours": 6},
   {"year": 2012, "month": 10, "date": 17, "hours": 18}, {"year": 2012, "month": 10, "date": 18, "hours": 12}, {"year": 2012, "month": 10, "date": 19, "hours": 6},
   {"year": 2012, "month": 10, "date": 20, "hours": 18}, {"year": 2012, "month": 10, "date": 21, "hours": 12}, {"year": 2012, "month": 10, "date": 22, "hours": 6},
   {"year": 2012, "month": 10, "date": 23, "hours": 18}, {"year": 2012, "month": 10, "date": 24, "hours": 12}, {"year": 2012, "month": 10, "date": 25, "hours": 6},
   {"year": 2012, "month": 10, "date": 26, "hours": 18}, {"year": 2012, "month": 10, "date": 27, "hours": 12}, {"year": 2012, "month": 10, "date": 28, "hours": 6},
   {"year": 2012, "month": 10, "date": 29, "hours": 18}, {"year": 2012, "month": 10, "date": 30, "hours": 12}, {"year": 2012, "month": 10, "date": 31, "hours": 6}
  ]}}
}
}
]
}
